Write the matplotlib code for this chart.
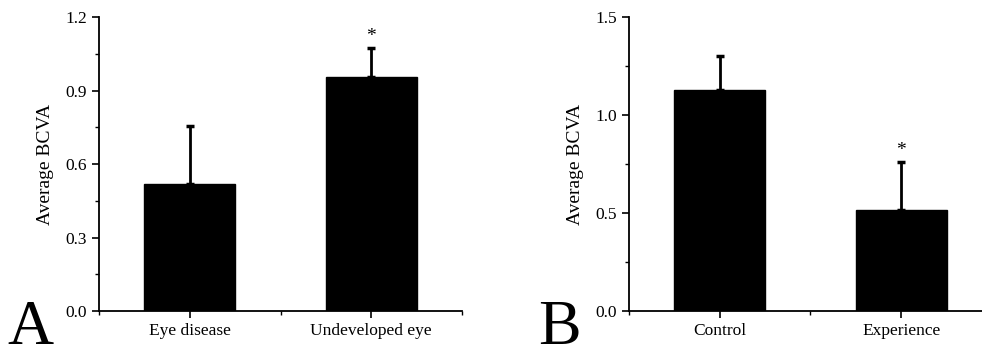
import matplotlib
matplotlib.use("Agg")
import matplotlib.pyplot as plt
from matplotlib.ticker import MultipleLocator

plt.rcParams["font.family"] = ["Liberation Serif", "DejaVu Serif"]

# panel A
a_groups = ["Eye disease", "Undeveloped eye"]
a_means = [0.52, 0.957]
a_err = [0.237, 0.117]
a_star = [False, True]

# panel B
b_groups = ["Control", "Experience"]
b_means = [1.129, 0.517]
b_err = [0.173, 0.244]
b_star = [False, True]


def panel(ax, groups, means, errs, stars, ymax, ystep):
    x = list(range(1, len(groups) + 1))
    ax.bar(x, means, width=0.5, color="black", edgecolor="black", zorder=2)
    # one-sided (upper) error bars
    ax.errorbar(x, means, yerr=[[0] * len(errs), errs], fmt="none",
                ecolor="black", elinewidth=2, capsize=3, capthick=2.5, zorder=1)
    for xi, m, e, s in zip(x, means, errs, stars):
        if s:
            ax.text(xi, m + e + ymax * 0.01, "*", ha="center", va="bottom",
                    fontsize=14)
    ax.set_xlim(0.5, 2.5)
    ax.set_ylim(0, ymax)
    ax.set_xticks(x)
    ax.set_xticklabels(groups, fontsize=12.5)
    ax.xaxis.set_minor_locator(MultipleLocator(0.5))
    ax.yaxis.set_major_locator(MultipleLocator(ystep))
    ax.yaxis.set_minor_locator(MultipleLocator(ystep / 2))
    ax.yaxis.set_major_formatter(matplotlib.ticker.FormatStrFormatter("%.1f"))
    ax.tick_params(axis="y", labelsize=12.5)
    ax.tick_params(which="major", length=5, width=1.2, direction="out")
    ax.tick_params(which="minor", length=3, width=1.0, direction="out")
    ax.spines["top"].set_visible(False)
    ax.spines["right"].set_visible(False)
    ax.spines["left"].set_linewidth(1.3)
    ax.spines["bottom"].set_linewidth(1.3)
    ax.spines["bottom"].set_bounds(0.5, 2.5)
    ax.set_ylabel("Average BCVA", fontsize=14, labelpad=8)


fig = plt.figure(figsize=(9.82, 3.6), dpi=100)
axA = fig.add_axes([0.1008, 0.136, 0.3697, 0.816])
axB = fig.add_axes([0.6405, 0.136, 0.3697, 0.816])
panel(axA, a_groups, a_means, a_err, a_star, 1.2, 0.3)
panel(axB, b_groups, b_means, b_err, b_star, 1.5, 0.5)

fig.text(0.008, 0.005, "A", fontsize=46, ha="left", va="bottom")
fig.text(0.548, 0.005, "B", fontsize=46, ha="left", va="bottom")

fig.savefig("out.png", dpi=100)
